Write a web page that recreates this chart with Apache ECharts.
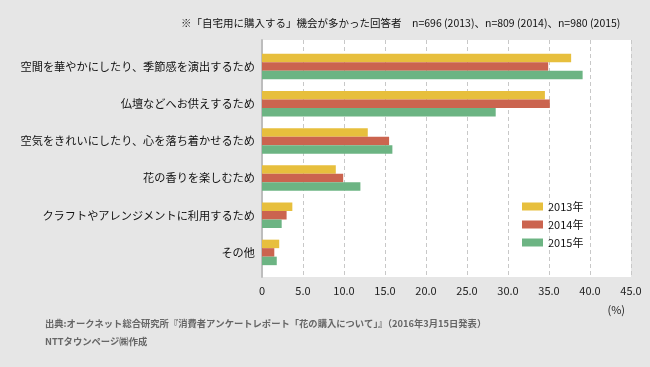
<!DOCTYPE html>
<html><head><meta charset="utf-8">
<script src="https://cdn.jsdelivr.net/npm/echarts@6/dist/echarts.min.js"></script>
<style>html,body{margin:0;padding:0;background:#e6e6e6;}#c{width:650px;height:367px;}</style>
</head><body><div id="c"></div>
<script>
var categories = ['空間を華やかにしたり、季節感を演出するため','仏壇などへお供えするため','空気をきれいにしたり、心を落ち着かせるため','花の香りを楽しむため','クラフトやアレンジメントに利用するため','その他'];
var seriesNames = ['2013年','2014年','2015年'];
var v2013 = [37.7, 34.5, 12.9, 9.0, 3.7, 2.1];
var v2014 = [34.9, 35.1, 15.5, 9.9, 3.0, 1.5];
var v2015 = [39.1, 28.5, 15.9, 12.0, 2.4, 1.8];
var colors = ['#e7bf3d','#cb644f','#6cb483'];
var FONT = '"Noto Sans CJK JP", "Noto Sans", sans-serif';

var chart = echarts.init(document.getElementById('c'));
var data = [v2013, v2014, v2015];
chart.setOption({
  backgroundColor: '#e6e6e6',
  animation: false,
  textStyle: {fontFamily: FONT},
  title: [
    {text: '※「自宅用に購入する」機会が多かった回答者　n=696 (2013)、n=809 (2014)、n=980 (2015)', left: 176, top: 13,
     textStyle: {fontSize: 10.5, fontWeight: 'normal', color: '#111', fontFamily: FONT}},
    {text: '(%)', right: 20, top: 299, textStyle: {fontSize: 11, fontWeight: 'normal', color: '#222', fontFamily: FONT}},
    {text: '出典:オークネット総合研究所『消費者アンケートレポート「花の購入について」』（2016年3月15日発表）', left: 40, top: 314,
     textStyle: {fontSize: 9.3, fontWeight: 'bold', color: '#666', fontFamily: FONT}},
    {text: 'NTTタウンページ㈱作成', left: 40, top: 332,
     textStyle: {fontSize: 9.3, fontWeight: 'bold', color: '#666', fontFamily: FONT}}
  ],
  legend: {
    orient: 'vertical', left: 517, top: 195, itemWidth: 21, itemHeight: 8, itemGap: 5,
    icon: 'rect', data: seriesNames,
    textStyle: {fontSize: 11, color: '#111', lineHeight: 13, fontFamily: FONT}
  },
  grid: [
    {left: 262, right: 19, top: 40, bottom: 90, show: true, backgroundColor: '#ffffff', borderWidth: 0},
    {left: 262, right: 19, top: 48, bottom: 96}
  ],
  xAxis: [
    {type: 'value', gridIndex: 0, min: 0, max: 45, interval: 5,
     axisLine: {show: false}, axisTick: {show: false},
     splitLine: {show: true, lineStyle: {color: '#c8c8c8', type: [4, 3], width: 1}},
     axisLabel: {fontSize: 11, color: '#222', margin: 8, fontFamily: FONT,
       formatter: function(v){ return v === 0 ? '0' : v.toFixed(1); }}},
    {type: 'value', gridIndex: 1, min: 0, max: 45, interval: 5, show: false, splitLine: {show: false}}
  ],
  yAxis: [
    {type: 'category', gridIndex: 0, data: categories, inverse: true,
     axisLabel: {show: false}, axisTick: {show: false},
     axisLine: {show: true, lineStyle: {color: '#bdbdbd', width: 2}}},
    {type: 'category', gridIndex: 1, data: categories, inverse: true,
     axisLine: {show: false}, axisTick: {show: false},
     axisLabel: {fontSize: 11.2, color: '#111', margin: 7, fontFamily: FONT}}
  ],
  series: seriesNames.map(function(n, i){
    return {name: n, type: 'bar', xAxisIndex: 1, yAxisIndex: 1, data: data[i],
      barWidth: 8.5, barGap: '0%', itemStyle: {color: colors[i]}};
  })
});
</script></body></html>
